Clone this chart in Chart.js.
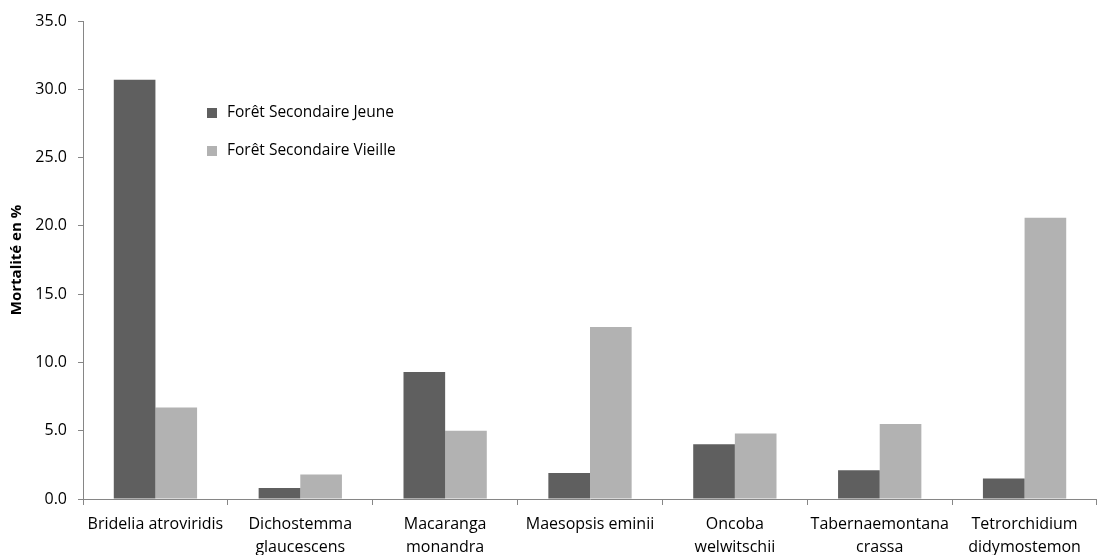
<!DOCTYPE html>
<html>
<head>
<meta charset="utf-8">
<script src="https://cdn.jsdelivr.net/npm/chart.js@4"></script>
<style>
  html, body { margin: 0; padding: 0; background: #fff; }
  #wrap { width: 1097px; height: 555px; }
</style>
</head>
<body>
<div id="wrap"><canvas id="mortChart"></canvas></div>
<script>
// data
const species = [
    ['Bridelia atroviridis'],
    ['Dichostemma', 'glaucescens'],
    ['Macaranga', 'monandra'],
    ['Maesopsis eminii'],
    ['Oncoba', 'welwitschii'],
    ['Tabernaemontana', 'crassa'],
    ['Tetrorchidium', 'didymostemon']
];
const jeune = [30.7, 0.8, 9.3, 1.9, 4.0, 2.1, 1.5];
const vieille = [6.7, 1.8, 5.0, 12.6, 4.8, 5.5, 20.6];
const seriesNames = ['Forêt Secondaire Jeune', 'Forêt Secondaire Vieille'];
const yTicks = [0, 5, 10, 15, 20, 25, 30, 35];

const FONT = '"Open Sans", "Liberation Sans", sans-serif';
const axisGrey = '#868686';

// legend drawn inside the plot area
const innerLegend = {
    id: 'innerLegend',
    afterDraw(chart) {
        const c = chart.ctx;
        c.save();
        c.font = '15.5px ' + FONT;
        c.textBaseline = 'middle';
        chart.data.datasets.forEach((ds, i) => {
            const y = 113 + i * 38;
            c.fillStyle = ds.backgroundColor;
            c.fillRect(207, y - 5, 10, 10);
            c.fillStyle = '#000';
            c.fillText(ds.label, 227, y);
        });
        c.restore();
    }
};

const ctx = document.getElementById('mortChart').getContext('2d');
new Chart(ctx, {
    type: 'bar',
    data: {
        labels: species,
        datasets: [
            { label: seriesNames[0], data: jeune, backgroundColor: '#5f5f5f' },
            { label: seriesNames[1], data: vieille, backgroundColor: '#b2b2b2' }
        ]
    },
    options: {
        responsive: true,
        maintainAspectRatio: false,
        animation: false,
        categoryPercentage: 0.575,
        barPercentage: 1,
        layout: { padding: { top: 21, right: 0, left: 0, bottom: 0 } },
        plugins: {
            legend: { display: false },
            tooltip: { enabled: false }
        },
        scales: {
            x: {
                grid: {
                    offset: true,
                    drawOnChartArea: false,
                    color: axisGrey,
                    tickLength: 6
                },
                border: { color: axisGrey, width: 1 },
                ticks: {
                    color: '#000',
                    font: { family: FONT, size: 16, lineHeight: 1.45 },
                    padding: 8,
                    maxRotation: 0,
                    autoSkip: false
                },
                afterFit(scale) { scale.height = 56; }
            },
            y: {
                min: 0,
                max: 35,
                afterBuildTicks(scale) { scale.ticks = yTicks.map(v => ({ value: v })); },
                grid: {
                    drawOnChartArea: false,
                    color: axisGrey,
                    tickLength: 5
                },
                border: { color: axisGrey, width: 1 },
                ticks: {
                    color: '#000',
                    font: { family: FONT, size: 16 },
                    padding: 11,
                    callback: v => v.toFixed(1)
                },
                title: {
                    display: true,
                    text: 'Mortalité en %',
                    color: '#000',
                    font: { family: FONT, size: 15, weight: 'bold' },
                    padding: { top: 8, bottom: 0 }
                },
                afterFit(scale) { scale.width = 83; }
            }
        }
    },
    plugins: [innerLegend]
});
</script>
</body>
</html>
